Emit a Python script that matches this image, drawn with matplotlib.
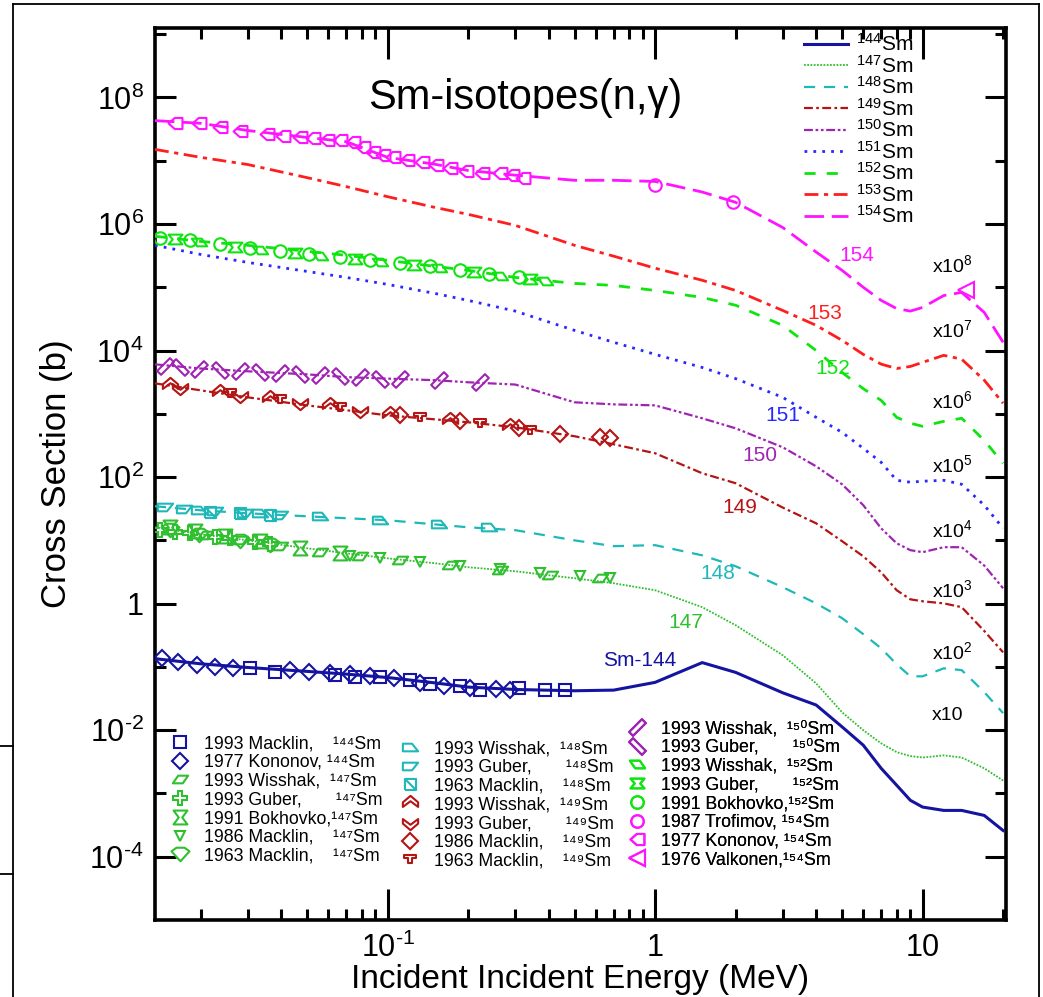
import matplotlib as mpl
import matplotlib.pyplot as plt
from matplotlib.lines import Line2D
from matplotlib.path import Path
from matplotlib.ticker import FixedLocator, FixedFormatter

mpl.rc('font', family=['Liberation Sans', 'DejaVu Sans'])
mpl.rc('mathtext', fontset='custom', rm='Liberation Sans',
       it='Liberation Sans:italic', bf='Liberation Sans:bold')

# evaluated curves, values as drawn (already multiplied by the offsets)
energy = [0.0135, 0.02, 0.03, 0.05, 0.07, 0.1, 0.15, 0.2, 0.3, 0.5, 0.7, 1.0, 1.5,
          2, 3, 4, 5, 6, 7, 8, 9, 10, 12, 14, 17, 20]
sm144 = [0.135, 0.112, 0.098, 0.085, 0.077, 0.068, 0.056, 0.048, 0.044, 0.042, 0.043,
         0.057, 0.117, 0.082, 0.039, 0.025, 0.0113, 0.0058, 0.0025, 0.00135, 7.8e-4,
         6.1e-4, 5.4e-4, 5.4e-4, 4.5e-4, 2.6e-4]
sm147 = [16.1, 12.5, 10.0, 7.5, 6.25, 5.2, 4.35, 3.76, 3.25, 2.52, 2.10, 1.63, 0.88,
         0.456, 0.153, 0.055, 0.0192, 0.0100, 0.0062, 0.0045, 0.0039, 0.0037, 0.0040,
         0.0037, 0.0025, 0.0016]
sm148 = [34.6, 29.9, 26.8, 24.0, 22.4, 20.8, 17.9, 16.1, 14.5, 10.0, 8.1, 8.4, 5.8,
         3.9, 1.82, 1.01, 0.59, 0.33, 0.197, 0.110, 0.071, 0.071, 0.095, 0.089, 0.040,
         0.0186]
sm149 = [3.03e3, 2.35e3, 1.82e3, 1.36e3, 1.14e3, 946, 818, 735, 612, 442, 330, 238,
         115, 80, 33, 18.6, 9.7, 5.6, 3.13, 1.63, 1.17, 1.09, 1.01, 0.88, 0.37, 0.17]
sm150 = [6.05e3, 5.2e3, 4.7e3, 4.2e3, 3.8e3, 3.6e3, 3.4e3, 3.15e3, 2.9e3, 1.52e3,
         1.41e3, 1.36e3, 850, 590, 296, 148, 77, 36, 15.5, 9.0, 7.0, 6.5, 7.8, 7.8,
         4.0, 1.75]
sm151 = [4.6e5, 3.3e5, 2.47e5, 1.78e5, 1.43e5, 1.11e5, 8.0e4, 6.2e4, 4.2e4, 2.08e4,
         1.35e4, 8.7e3, 5.4e3, 3.6e3, 1.82e3, 880, 510, 285, 171, 89, 83, 86, 89, 77,
         36, 15.5]
sm152 = [6.4e5, 5.3e5, 4.6e5, 3.7e5, 3.2e5, 2.66e5, 2.14e5, 1.85e5, 1.43e5, 1.15e5,
         1.07e5, 8.9e4, 6.9e4, 5.2e4, 2.5e4, 1.0e4, 4.5e3, 2.5e3, 1.63e3, 880, 710,
         635, 760, 850, 380, 165]
sm153 = [1.51e7, 1.13e7, 8.7e6, 5.4e6, 3.9e6, 2.7e6, 1.83e6, 1.42e6, 9.5e5, 4.6e5,
         3.1e5, 2.0e5, 1.29e5, 8.9e4, 4.3e4, 2.5e4, 1.45e4, 8.7e3, 6.1e3, 5.2e3, 5.6e3,
         6.5e3, 8.4e3, 7.3e3, 3.4e3, 1.47e3]
sm154 = [4.3e7, 3.9e7, 3.0e7, 2.33e7, 2.0e7, 1.13e7, 8.8e6, 7.0e6, 5.9e6, 4.9e6,
         4.9e6, 4.7e6, 3.2e6, 2.2e6, 8.8e5, 3.6e5, 1.85e5, 1.0e5, 6.2e4, 4.6e4, 4.2e4,
         4.8e4, 7.4e4, 8.3e4, 4.0e4, 1.35e4]

# experimental points (E in MeV, sigma as drawn)
mack93_144_e = [0.0305, 0.0378, 0.0634, 0.0753, 0.0933, 0.121, 0.144, 0.186, 0.221, 0.311, 0.386, 0.459]
mack93_144_s = [0.095, 0.082, 0.074, 0.069, 0.069, 0.062, 0.053, 0.0495, 0.043, 0.046, 0.043, 0.043]
kon77_144_e = [0.0144, 0.0164, 0.0193, 0.0226, 0.0264, 0.043, 0.051, 0.0607, 0.0721, 0.0857,
               0.106, 0.132, 0.163, 0.203, 0.255, 0.286]
kon77_144_s = [0.137, 0.119, 0.106, 0.099, 0.095, 0.089, 0.082, 0.079, 0.077, 0.071,
               0.066, 0.055, 0.0495, 0.046, 0.0445, 0.043]
wis93_147_e = [0.0207, 0.028, 0.0395, 0.0557, 0.0786, 0.111, 0.171, 0.262, 0.404, 0.621]
wis93_147_s = [12.0, 10.0, 8.1, 6.5, 5.6, 4.85, 4.05, 3.37, 2.81, 2.52]
gub93_147_e = [0.01406, 0.016, 0.0182, 0.0226, 0.0257, 0.0318, 0.0362]
gub93_147_s = [14.5, 13.4, 12.9, 11.2, 10.8, 9.3, 8.7]
bok91_147_e = [0.0153, 0.019, 0.0246, 0.0332, 0.0469, 0.0662]
bok91_147_s = [16.1, 13.9, 11.6, 9.7, 7.5, 6.25]
mack86_147_e = [0.0721, 0.0933, 0.132, 0.186, 0.262, 0.37, 0.522, 0.676]
mack86_147_s = [5.6, 5.2, 4.5, 3.9, 3.5, 3.0, 2.71, 2.52]
mack63_147_e = [0.0153, 0.0198, 0.028, 0.0362]
mack63_147_s = [14.5, 12.0, 9.7, 8.4]
wis93_148_e = [0.0198, 0.0332, 0.0557, 0.0933, 0.156, 0.240]
wis93_148_s = [29.9, 26.8, 24.0, 20.8, 17.9, 16.1]
gub93_148_e = [0.01466, 0.0174, 0.0226, 0.0292, 0.0395]
gub93_148_s = [33.4, 31.0, 28.8, 26.8, 24.9]
mack63_148_e = [0.0216, 0.028, 0.0362]
mack63_148_s = [27.8, 26.8, 24.9]
wis93_149_e = [0.0153, 0.0236, 0.0362, 0.0607, 0.1017, 0.171, 0.286]
wis93_149_s = [2.82e3, 2.19e3, 1.76e3, 1.36e3, 982, 789, 635]
gub93_149_e = [0.0167, 0.028, 0.0469, 0.0786]
gub93_149_s = [2.62e3, 1.96e3, 1.52e3, 1.14e3]
mack86_149_e = [0.111, 0.186, 0.311, 0.44, 0.621, 0.676]
mack86_149_s = [946, 762, 590, 474, 425, 410]
mack63_149_e = [0.0257, 0.0395, 0.0662, 0.132, 0.221, 0.340]
mack63_149_s = [2.11e3, 1.69e3, 1.27e3, 881, 708, 549]
wis93_150_e = [0.01466, 0.0198, 0.028, 0.0395, 0.0557, 0.0786, 0.111, 0.156, 0.221]
wis93_150_s = [5.8e3, 5.2e3, 4.7e3, 4.4e3, 4.06e3, 3.8e3, 3.6e3, 3.4e3, 3.15e3]
gub93_150_e = [0.0167, 0.0236, 0.0332, 0.0469, 0.0662, 0.0933]
gub93_150_s = [5.4e3, 4.9e3, 4.5e3, 4.2e3, 3.9e3, 3.6e3]
wis93_152_e = [0.0198, 0.0332, 0.0557, 0.0933, 0.156, 0.262, 0.386]
wis93_152_s = [5.1e5, 3.83e5, 3.08e5, 2.47e5, 1.99e5, 1.49e5, 1.24e5]
gub93_152_e = [0.016, 0.0268, 0.0449, 0.0753, 0.126, 0.211, 0.340]
gub93_152_s = [5.7e5, 4.27e5, 3.43e5, 2.76e5, 2.22e5, 1.72e5, 1.33e5]
bok91_152_e = [0.01406, 0.0182, 0.0236, 0.0305, 0.0395, 0.051, 0.0662, 0.0857, 0.111,
               0.144, 0.186, 0.240, 0.311]
bok91_152_s = [6.1e5, 5.5e5, 4.76e5, 4.12e5, 3.7e5, 3.3e5, 2.97e5, 2.66e5, 2.39e5,
               2.14e5, 1.85e5, 1.6e5, 1.43e5]
tro87_154_e = [1.0, 1.95]
tro87_154_s = [4.1e6, 2.2e6]
kon77_154_e = [0.016, 0.0198, 0.0236, 0.028, 0.0353, 0.0405, 0.0469, 0.0525, 0.0592,
               0.0662, 0.074, 0.0807, 0.088, 0.0958, 0.1044, 0.118, 0.135, 0.152, 0.171,
               0.197, 0.226, 0.262, 0.293, 0.32]
kon77_154_s = [4.0e7, 3.9e7, 3.36e7, 3.0e7, 2.6e7, 2.5e7, 2.33e7, 2.25e7, 2.1e7, 2.1e7,
               1.95e7, 1.62e7, 1.35e7, 1.21e7, 1.13e7, 1.01e7, 9.4e6, 8.4e6, 7.8e6, 7.0e6,
               6.3e6, 6.5e6, 5.9e6, 5.4e6]
val76_154_e = [14.5]
val76_154_s = [8.9e4]

isotopes = ['144', '147', '148', '149', '150', '151', '152', '153', '154']
offsets = ['', r'x10', r'x10$^2$', r'x10$^3$', r'x10$^4$', r'x10$^5$', r'x10$^6$',
           r'x10$^7$', r'x10$^8$']

c144 = '#1414a0'
c147 = '#2fbf2f'
c148 = '#1fb8b8'
c149 = '#b41414'
c150 = '#a024b4'
c151 = '#2828ff'
c152 = '#10e410'
c153 = '#ff1e1e'
c154 = '#ff14ff'


def shape(pts):
    return Path(pts + [pts[0]], closed=True)


# marker shapes
para_r = shape([(-1, -0.5), (0.3, -0.5), (1, 0.5), (-0.3, 0.5)])
para_l = shape([(-1, 0.5), (0.3, 0.5), (1, -0.5), (-0.3, -0.5)])
hourglass = shape([(-1, 1), (1, 1), (0.25, 0), (1, -1), (-1, -1), (-0.25, 0)])
pent_dn = shape([(-1, 0.35), (-0.45, 0.75), (0.45, 0.75), (1, 0.35), (0, -0.75)])
trap_up = shape([(-1, -0.5), (1, -0.5), (0.2, 0.5), (-1, 0.5)])
trap_dn = shape([(-1, 0.5), (1, 0.5), (0.2, -0.5), (-1, -0.5)])
sq_diag = Path([(-1, -1), (1, -1), (1, 1), (-1, 1), (-1, -1), (-1, 1), (1, -1)],
               [1, 2, 2, 2, 2, 1, 2])
chev_up = shape([(0, 1), (1, 0.15), (1, -0.45), (0, 0.3), (-1, -0.45), (-1, 0.15)])
chev_dn = shape([(0, -1), (1, -0.15), (1, 0.45), (0, -0.3), (-1, 0.45), (-1, -0.15)])
tee = shape([(-1, 0.7), (1, 0.7), (1, 0.1), (0.3, 0.1), (0.3, -0.7), (-0.3, -0.7),
             (-0.3, 0.1), (-1, 0.1)])
slab_r = shape([(-0.92, -0.49), (-0.49, -0.92), (0.92, 0.49), (0.49, 0.92)])
slab_l = shape([(0.92, -0.49), (0.49, -0.92), (-0.92, 0.49), (-0.49, 0.92)])
bow_h = shape([(-1, 0.7), (1, 0.7), (0.4, 0), (1, -0.7), (-1, -0.7), (-0.4, 0)])
house_l = shape([(1, 0.8), (1, -0.8), (-0.1, -0.8), (-1, 0), (-0.1, 0.8)])

fig = plt.figure(figsize=(10.43, 9.97), dpi=100)
ax = fig.add_axes([0.1486, 0.0772, 0.8159, 0.8947])

curve_data = [sm144, sm147, sm148, sm149, sm150, sm151, sm152, sm153, sm154]
curve_col = [c144, c147, c148, c149, c150, c151, c152, c153, c154]
curve_lw = [2.2, 1.3, 1.6, 1.6, 1.6, 2.0, 2.0, 2.0, 2.0]
curve_dash = [None, (1, 0.8), (5, 4), (4, 1.5, 1.2, 1.5), (4, 1.2, 1.2, 1.2, 1.2, 1.2),
              (1, 2.2), (4, 4), (5, 2, 1.5, 2), (7, 2.8)]

line_handles = []
for vals, col, lw, dash in zip(curve_data, curve_col, curve_lw, curve_dash):
    ln, = ax.plot(energy, vals, color=col, lw=lw, zorder=3)
    if dash is not None:
        ln.set_dashes(dash)
    line_handles.append(ln)

exp_sets = [
    (mack93_144_e, mack93_144_s, 's', c144, 8, '1993 Macklin,    ¹⁴⁴Sm'),
    (kon77_144_e, kon77_144_s, 'D', c144, 8, '1977 Kononov, ¹⁴⁴Sm'),
    (wis93_147_e, wis93_147_s, para_r, c147, 11, '1993 Wisshak,  ¹⁴⁷Sm'),
    (gub93_147_e, gub93_147_s, 'P', c147, 10, '1993 Guber,       ¹⁴⁷Sm'),
    (bok91_147_e, bok91_147_s, hourglass, c147, 10, '1991 Bokhovko,¹⁴⁷Sm'),
    (mack86_147_e, mack86_147_s, 'v', c147, 7, '1986 Macklin,    ¹⁴⁷Sm'),
    (mack63_147_e, mack63_147_s, pent_dn, c147, 13, '1963 Macklin,    ¹⁴⁷Sm'),
    (wis93_148_e, wis93_148_s, trap_up, c148, 11, '1993 Wisshak,  ¹⁴⁸Sm'),
    (gub93_148_e, gub93_148_s, trap_dn, c148, 11, '1993 Guber,       ¹⁴⁸Sm'),
    (mack63_148_e, mack63_148_s, sq_diag, c148, 8, '1963 Macklin,    ¹⁴⁸Sm'),
    (wis93_149_e, wis93_149_s, chev_up, c149, 11, '1993 Wisshak,  ¹⁴⁹Sm'),
    (gub93_149_e, gub93_149_s, chev_dn, c149, 11, '1993 Guber,       ¹⁴⁹Sm'),
    (mack86_149_e, mack86_149_s, 'D', c149, 8, '1986 Macklin,    ¹⁴⁹Sm'),
    (mack63_149_e, mack63_149_s, tee, c149, 9, '1963 Macklin,    ¹⁴⁹Sm'),
    (wis93_150_e, wis93_150_s, slab_r, c150, 12, '1993 Wisshak,  ¹⁵⁰Sm'),
    (gub93_150_e, gub93_150_s, slab_l, c150, 12, '1993 Guber,       ¹⁵⁰Sm'),
    (wis93_152_e, wis93_152_s, para_l, c152, 11, '1993 Wisshak,  ¹⁵²Sm'),
    (gub93_152_e, gub93_152_s, bow_h, c152, 10, '1993 Guber,       ¹⁵²Sm'),
    (bok91_152_e, bok91_152_s, 'o', c152, 9, '1991 Bokhovko,¹⁵²Sm'),
    (tro87_154_e, tro87_154_s, 'o', c154, 9, '1987 Trofimov, ¹⁵⁴Sm'),
    (kon77_154_e, kon77_154_s, house_l, c154, 10, '1977 Kononov, ¹⁵⁴Sm'),
    (val76_154_e, val76_154_s, '<', c154, 11, '1976 Valkonen,¹⁵⁴Sm'),
]

exp_handles = []
for xs, ys, mk, col, ms, lab in exp_sets:
    h, = ax.plot(xs, ys, ls='none', marker=mk, ms=ms, mfc='none', mec=col,
                 mew=1.5, zorder=4, label=lab)
    exp_handles.append(h)

ax.set_xscale('log')
ax.set_yscale('log')
ax.set_xlim(0.0135, 20.5)
ax.set_ylim(1e-5, 1.25e9)

ax.xaxis.set_major_locator(FixedLocator([0.1, 1, 10]))
ax.xaxis.set_major_formatter(FixedFormatter(['$10^{‐1}$', '1', '10']))
ax.xaxis.set_minor_locator(FixedLocator([0.02, 0.03, 0.04, 0.05, 0.06, 0.07, 0.08, 0.09,
                                         0.2, 0.3, 0.4, 0.5, 0.6, 0.7, 0.8, 0.9,
                                         2, 3, 4, 5, 6, 7, 8, 9, 20]))
ax.yaxis.set_major_locator(FixedLocator([1e-4, 1e-2, 1, 1e2, 1e4, 1e6, 1e8]))
ax.yaxis.set_major_formatter(FixedFormatter(['$10^{‐4}$', '$10^{‐2}$', '1', '$10^{2}$',
                                             '$10^{4}$', '$10^{6}$', '$10^{8}$']))
ax.yaxis.set_minor_locator(FixedLocator([1e-3, 1e-1, 10, 1e3, 1e5, 1e7, 1e9]))
ax.xaxis.set_minor_formatter(FixedFormatter([]))
ax.yaxis.set_minor_formatter(FixedFormatter([]))

ax.tick_params(which='both', direction='in', top=True, right=True, width=2.2,
               labelsize=22)
ax.tick_params(axis='x', which='major', length=22, pad=9)
ax.tick_params(axis='x', which='minor', length=8)
ax.tick_params(axis='y', which='major', length=15, pad=8)
ax.tick_params(axis='y', which='minor', length=8)
for sp in ax.spines.values():
    sp.set_linewidth(2.6)

ax.set_xlabel('Incident Incident Energy (MeV)', fontsize=24, labelpad=0)
ax.set_ylabel('Cross Section (b)', fontsize=25, labelpad=12)

ax.text(0.435, 0.922, 'Sm-isotopes(n,γ)', transform=ax.transAxes, fontsize=30,
        ha='center', va='center')

# isotope labels on the curves
ax.text(5.66, 3.2e5, '154', color=c154, fontsize=15, ha='center', va='center')
ax.text(4.3, 3.9e4, '153', color=c153, fontsize=15, ha='center', va='center')
ax.text(4.6, 5.2e3, '152', color=c152, fontsize=15, ha='center', va='center')
ax.text(3.0, 946, '151', color=c151, fontsize=15, ha='center', va='center')
ax.text(2.46, 221, '150', color=c150, fontsize=15, ha='center', va='center')
ax.text(2.07, 33, '149', color=c149, fontsize=15, ha='center', va='center')
ax.text(1.71, 3.0, '148', color=c148, fontsize=15, ha='center', va='center')
ax.text(1.30, 0.51, '147', color=c147, fontsize=15, ha='center', va='center')
ax.text(0.875, 0.128, 'Sm-144', color=c144, fontsize=15, ha='center', va='center')

off_y = [None, 0.017, 0.17, 1.63, 14.5, 153, 1.6e3, 2.1e4, 2.2e5]
for lab, yv in zip(offsets[1:], off_y[1:]):
    ax.text(10.8, yv, lab, fontsize=14, ha='left', va='center')

leg1 = ax.legend(line_handles, [r'$^{%s}$Sm' % s for s in isotopes], loc='upper left',
                 bbox_to_anchor=(0.757, 1.0), frameon=False, fontsize=15,
                 handlelength=2.1, handletextpad=0.4, labelspacing=-0.02,
                 borderpad=0.25, borderaxespad=0)
ax.add_artist(leg1)

cols = [(exp_handles[0:7], (0.019, 0.2074)), (exp_handles[7:14], (0.289, 0.2018)),
        (exp_handles[14:22], (0.556, 0.2242))]
for hs, anchor in cols:
    lg = ax.legend(hs, [h.get_label() for h in hs], loc='upper left',
                   bbox_to_anchor=anchor, frameon=False, fontsize=12.8,
                   handlelength=1.0, handletextpad=0.85, labelspacing=0.1,
                   borderpad=0, borderaxespad=0)
    ax.add_artist(lg)

# frame of the page the plot was cut from
frame = dict(transform=fig.transFigure, color='black', lw=1.3)
fig.add_artist(Line2D([13 / 1043, 13 / 1043], [0, 1 - 4 / 997], **frame))
fig.add_artist(Line2D([13 / 1043, 1039 / 1043], [1 - 4 / 997, 1 - 4 / 997], **frame))
fig.add_artist(Line2D([1039 / 1043, 1039 / 1043], [0, 1 - 4 / 997], **frame))
fig.add_artist(Line2D([0, 13 / 1043], [1 - 746 / 997, 1 - 746 / 997], **frame))
fig.add_artist(Line2D([0, 13 / 1043], [1 - 874 / 997, 1 - 874 / 997], **frame))

fig.savefig('out.png', dpi=100)
